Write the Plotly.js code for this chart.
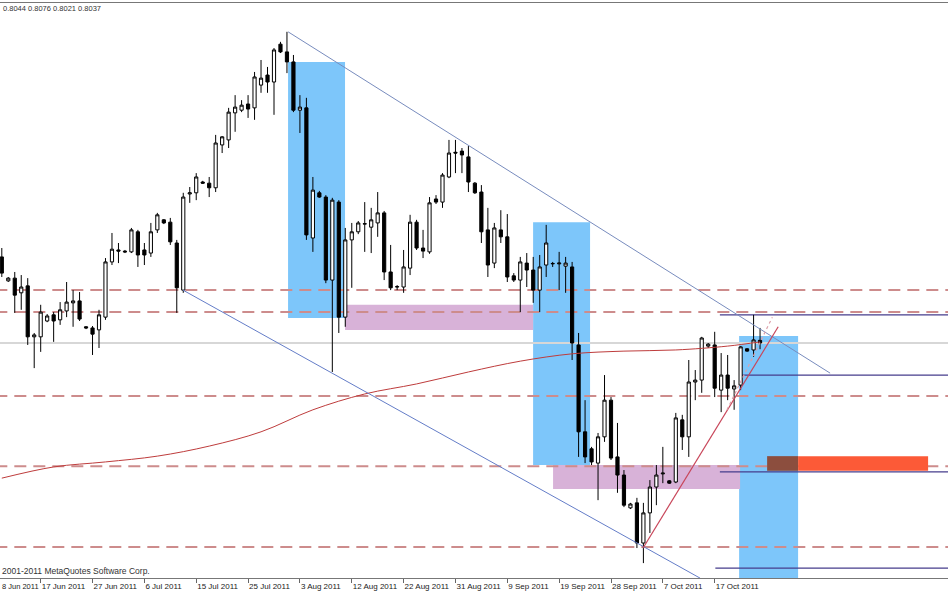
<!DOCTYPE html>
<html><head><meta charset="utf-8">
<script src="https://cdn.plot.ly/plotly-3.0.1.min.js"></script>
<style>html,body{margin:0;padding:0;background:#fff;}#chart{width:948px;height:593px;}</style>
</head><body><div id="chart"></div>
<script>
// NZDUSD daily bars (bar index 0 = 9 Jun 2011, broker with Sunday bars)
const opens  = [.8260,.8198,.8205,.8167,.8185,.8053,.8053,.8094,.8110,.8097,.8120,.8141,.8146,.8079,.8076,.8071,.8104,.8247,.8278,.8275,
  .8273,.8325,.8278,.8270,.8330,.8356,.8350,.8296,.8174,.8423,.8426,.8454,.8451,.8439,.8550,.8563,.8633,.8640,.8656,.8646,
  .8705,.8731,.8713,.8811,.8791,.8765,.8640,.8646,.8309,.8426,.8415,.8200,.8402,.8104,.8304,.8325,.8345,.8337,.8348,.8374,
  .8221,.8182,.8182,.8231,.8350,.8283,.8273,.8410,.8402,.8467,.8531,.8534,.8519,.8451,.8428,.8330,.8244,.8330,.8312,.8211,
  .8200,.8244,.8226,.8174,.8239,.8242,.8242,.8236,.8234,.8032,.7807,.7763,.7726,.7794,.7889,.7742,.7695,.7610,.7623,.7519,
  .7597,.7664,.7698,.7680,.7677,.7838,.7794,.7936,.7941,.8029,.8032,.7915,.7954,.7918,.7928,.8022,.8019,.8044];
const highs  = [.8283,.8208,.8221,.8213,.8205,.8063,.8136,.8112,.8117,.8143,.8195,.8174,.8169,.8081,.8081,.8123,.8257,.8322,.8296,.8278,
  .8335,.8330,.8296,.8348,.8374,.8358,.8361,.8304,.8426,.8441,.8477,.8457,.8467,.8576,.8573,.8646,.8679,.8666,.8679,.8739,
  .8770,.8752,.8801,.8817,.8843,.8783,.8679,.8672,.8467,.8431,.8420,.8413,.8407,.8335,.8348,.8353,.8402,.8387,.8428,.8379,
  .8291,.8187,.8278,.8369,.8356,.8330,.8415,.8420,.8477,.8563,.8563,.8542,.8547,.8454,.8446,.8387,.8348,.8381,.8371,.8218,
  .8260,.8270,.8260,.8265,.8343,.8247,.8273,.8260,.8247,.8063,.7889,.7768,.7804,.7954,.7897,.7830,.7708,.7623,.7636,.7623,
  .7682,.7721,.7768,.7682,.7856,.7851,.7993,.7967,.8053,.8037,.8066,.8011,.8006,.7941,.8029,.8024,.8110,.8076];
const lows   = [.8208,.8195,.8115,.8123,.8032,.7972,.8014,.8091,.8040,.8084,.8104,.8079,.8094,.8073,.8006,.8024,.8097,.8239,.8244,.8270,
  .8270,.8234,.8239,.8260,.8322,.8345,.8291,.8115,.8167,.8400,.8407,.8449,.8415,.8428,.8529,.8542,.8584,.8635,.8620,.8615,
  .8685,.8685,.8628,.8788,.8736,.8635,.8581,.8304,.8273,.8413,.8192,.7962,.8063,.8079,.8180,.8319,.8273,.8270,.8312,.8200,
  .8174,.8174,.8167,.8213,.8278,.8257,.8268,.8397,.8387,.8464,.8477,.8477,.8428,.8423,.8296,.8208,.8231,.8296,.8195,.8195,
  .8117,.8182,.8141,.8117,.8208,.8234,.8174,.8167,.7993,.7742,.7726,.7721,.7630,.7781,.7734,.7649,.7612,.7607,.7506,.7467,
  .7545,.7617,.7674,.7672,.7674,.7760,.7742,.7889,.7908,.8024,.7897,.7858,.7889,.7864,.7915,.8014,.8001,.8021];
const closes = [.8218,.8205,.8161,.8182,.8053,.8058,.8117,.8107,.8094,.8123,.8143,.8146,.8099,.8076,.8060,.8110,.8247,.8280,.8275,.8273,
  .8330,.8265,.8265,.8325,.8369,.8348,.8299,.8180,.8415,.8426,.8467,.8451,.8439,.8555,.8571,.8635,.8648,.8653,.8643,.8726,
  .8723,.8713,.8796,.8791,.8765,.8640,.8648,.8317,.8433,.8415,.8200,.8407,.8104,.8304,.8325,.8348,.8346,.8356,.8374,.8221,
  .8180,.8183,.8234,.8350,.8283,.8275,.8400,.8402,.8472,.8529,.8529,.8524,.8454,.8426,.8325,.8239,.8335,.8312,.8208,.8200,
  .8247,.8226,.8174,.8234,.8296,.8243,.8244,.8244,.8037,.7807,.7742,.7729,.7794,.7889,.7739,.7695,.7617,.7620,.7519,.7597,
  .7664,.7695,.7700,.7674,.7843,.7794,.7936,.7941,.8050,.8034,.7920,.7954,.7920,.7926,.8027,.8016,.8045,.8037];
const barIdx = opens.map((_, i) => i);

// moving average read at sample bars
const maIdx = [0, 8, 16, 24, 32, 40, 48, 56, 64, 72, 80, 88, 96, 104, 112, 117];
const maVal = [.7687,.7716,.7729,.7744,.7770,.7807,.7864,.7905,.7931,.7962,.7990,.8009,.8016,.8019,.8029,.8040];

// date axis labels (bar index of each label)
const tickIdx  = [6, 14, 22, 30, 38, 46, 54, 62, 70, 78, 86, 94, 102, 110];
const tickText = ["17 Jun 2011","27 Jun 2011","6 Jul 2011","15 Jul 2011","25 Jul 2011","3 Aug 2011",
  "12 Aug 2011","22 Aug 2011","31 Aug 2011","9 Sep 2011","19 Sep 2011","28 Sep 2011","7 Oct 2011","17 Oct 2011"];
const firstLabel = "8 Jun 2011";

// drawn objects (bar index / price)
const dashedLevels = [.8174, .8117, .7900, .7718, .7509];
const bidLevel = .8037;
const blueZones = [[44.17, 52.96, .8765, .8102], [81.98, 90.77, .8350, .7721], [113.77, 122.87, .8055, .7400]];
const pinkZones = [[52.96, 81.98, .8136, .8071], [85.06, 113.92, .7721, .7659]];
const navyLevels = [[110.8, .8110], [114.2, .7954], [110.8, .7703], [110.1, .7454]];
const upperChannel = [[44.17, .8843], [127.81, .7959]];
const lowerChannel = [[27.96, .8174], [107.75, .7428]];
const supportLine = [[98.95, .7506], [119.8, .8079]];
const dottedLine = [[111.9, .7864], [118.9, .8104]];
const orangeZone = [118.09, 142.93, .7744, .7706];
const X_MAX = 146.0;

const shapes = [];
blueZones.forEach(z => shapes.push({type:'rect', xref:'x', yref:'y', x0:z[0], x1:z[1], y0:z[2], y1:z[3],
  fillcolor:'rgb(125,198,250)', line:{width:0}, layer:'below'}));
pinkZones.forEach(z => shapes.push({type:'rect', xref:'x', yref:'y', x0:z[0], x1:z[1], y0:z[2], y1:z[3],
  fillcolor:'rgb(216,178,216)', line:{width:0}, layer:'below'}));
shapes.push({type:'line', xref:'x', yref:'y', x0:-1, x1:X_MAX, y0:bidLevel, y1:bidLevel,
  line:{color:'rgb(215,215,215)', width:2}, layer:'below'});
dashedLevels.forEach(v => shapes.push({type:'line', xref:'x', yref:'y', x0:-1, x1:X_MAX, y0:v, y1:v,
  line:{color:'rgb(205,140,140)', width:2, dash:'12px,7px'}, layer:'below'}));
navyLevels.forEach(v => shapes.push({type:'line', xref:'x', yref:'y', x0:v[0], x1:X_MAX, y0:v[1], y1:v[1],
  line:{color:'rgb(70,60,140)', width:1.2}, layer:'below'}));
shapes.push({type:'rect', xref:'x', yref:'y', x0:orangeZone[0], x1:blueZones[2][1], y0:orangeZone[2], y1:orangeZone[3],
  fillcolor:'rgb(140,78,62)', line:{width:0}, layer:'below'});
shapes.push({type:'rect', xref:'x', yref:'y', x0:blueZones[2][1], x1:orangeZone[1], y0:orangeZone[2], y1:orangeZone[3],
  fillcolor:'rgb(252,90,55)', line:{width:0}, layer:'below'});
[[upperChannel,'rgb(120,140,190)',1,'solid'],[lowerChannel,'rgb(100,125,200)',1,'solid'],
 [supportLine,'rgb(200,70,90)',1.2,'solid'],[dottedLine,'rgb(220,160,170)',1.2,'dot']].forEach(d => {
  shapes.push({type:'line', xref:'x', yref:'y', x0:d[0][0][0], y0:d[0][0][1], x1:d[0][1][0], y1:d[0][1][1],
    line:{color:d[1], width:d[2], dash:d[3]}});
});

const traces = [
  {type:'scatter', mode:'lines', x:maIdx, y:maVal, line:{color:'rgb(190,60,60)', width:1, shape:'spline'}, hoverinfo:'skip'},
  {type:'candlestick', x:barIdx, open:opens, high:highs, low:lows, close:closes,
   increasing:{line:{color:'black', width:1}, fillcolor:'white'},
   decreasing:{line:{color:'black', width:1}, fillcolor:'black'},
   whiskerwidth:0, hoverinfo:'skip'}
];

const layout = {
  width:948, height:593, margin:{l:0, r:0, t:3, b:15},
  paper_bgcolor:'white', plot_bgcolor:'white', showlegend:false,
  xaxis:{range:[-0.278, X_MAX], tickvals:tickIdx, ticktext:tickText, ticks:'outside', ticklen:4, tickcolor:'#666',
    tickangle:0, ticklabelposition:'outside right', ticklabelstandoff:0,
    tickfont:{family:'Liberation Sans', size:8, color:'#222'},
    showline:true, linecolor:'#777', linewidth:1, mirror:true, showgrid:false, zeroline:false,
    rangeslider:{visible:false}, fixedrange:true},
  yaxis:{range:[0.74284, 0.89176], showticklabels:false, showgrid:false, zeroline:false, showline:false, ticks:''},
  shapes:shapes,
  annotations:[
    {xref:'paper', yref:'paper', x:1/948, y:0.9896, xanchor:'left', yanchor:'middle', showarrow:false,
     text:'0.8044 0.8076 0.8021 0.8037', font:{family:'Liberation Sans', size:7.5, color:'#333'}},
    {xref:'paper', yref:'paper', x:0, y:0.0122, xanchor:'left', yanchor:'middle', showarrow:false,
     text:'2001-2011 MetaQuotes Software Corp.', font:{family:'Liberation Sans', size:8.5, color:'#333'}},
    {xref:'paper', yref:'paper', x:0, y:-0.0145, xanchor:'left', yanchor:'middle', showarrow:false,
     text:firstLabel, font:{family:'Liberation Sans', size:7.5, color:'#222'}}
  ]
};
Plotly.newPlot('chart', traces, layout, {staticPlot:true, displayModeBar:false});
</script></body></html>
